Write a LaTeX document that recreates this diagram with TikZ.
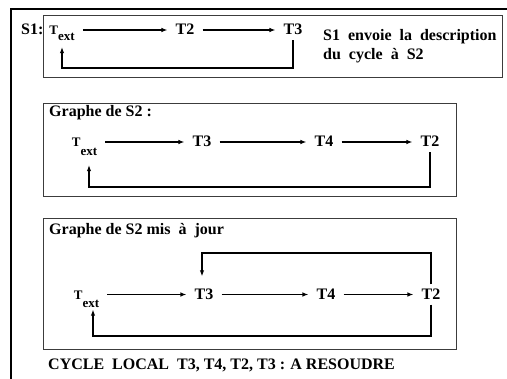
\documentclass[tikz,border=0pt]{standalone}
\usepackage{fontspec}
\setmainfont{Liberation Serif}
\usetikzlibrary{arrows.meta,positioning}
\definecolor{boxGray}{RGB}{60,60,60}
% T with the "ext" index set below it
\newcommand{\Tsub}[1]{{\fontsize{13}{15}\selectfont T\raisebox{-#1}{ext}}}

\begin{document}
\begin{tikzpicture}[x=1pt, y=-1pt, every node/.style={font=\fontsize{16}{18}\selectfont\bfseries},
    task/.style={inner xsep=8pt, inner ysep=5pt, text height=10pt, text depth=0pt},
    label/.style={inner sep=0pt, anchor=west},
    flow/.style={-{Latex[length=6pt,width=4.5pt]}, line width=1.1pt},
    frame/.style={draw=boxGray, line width=1pt}]
  \useasboundingbox (0,0) rectangle (507,379);
  % outer frame, runs off the page
  \draw[line width=1.6pt] (11,400) |- (530,9);

  % S1 sends its cycle
  \draw[frame] (43.5,15.5) rectangle (502,77.5);
  \node[label] (s1) at (21,29) {S1:};
  \node[task] (a1) at (62,30) {\Tsub{6pt}};
  \node[task] (b1) at (185,30) {T2};
  \node[task] (c1) at (293,30) {T3};
  \node[label, align=left, font=\fontsize{16}{19}\selectfont\bfseries] (note) at (323,46)
    {S1\ \ envoie\ \ la\ \ description\\du\ \ cycle\ \ à\ \ S2};
  \draw[flow] (a1) -- (b1);
  \draw[flow] (b1) -- (c1);
  \draw[flow] (c1.south) -- (c1.south |- 0,68) -| ([yshift=-7pt]a1.south);

  % graph of S2
  \draw[frame] (43.5,104) rectangle (456,197);
  \node[label] (g2) at (49,113) {Graphe de S2 :};
  \node[task] (a2) at (84.5,142) {\Tsub{9pt}};
  \node[task] (b2) at (202,142) {T3};
  \node[task] (c2) at (324,142) {T4};
  \node[task] (d2) at (430,142) {T2};
  \draw[flow] (a2) -- (b2);
  \draw[flow] (b2) -- (c2);
  \draw[flow] (c2) -- (d2);
  \draw[flow] (d2.south) -- (d2.south |- 0,187) -| ([xshift=4.5pt,yshift=-13pt]a2.south);

  % graph of S2 once updated
  \draw[frame] (43.5,219) rectangle (456,349.5);
  \node[label] (g3) at (49,231) {Graphe de S2 mis\ \ à\ \ jour};
  \node[task] (a3) at (86.5,294.5) {\Tsub{8pt}};
  \node[task] (b3) at (204,294.5) {T3};
  \node[task] (c3) at (326,294.5) {T4};
  \node[task] (d3) at (431,294.5) {T2};
  \draw[flow] (a3) -- (b3);
  \draw[flow] (b3) -- (c3);
  \draw[flow] (c3) -- (d3);
  \draw[flow] (d3.north) -- (d3.north |- 0,253) -| ([xshift=-2pt,yshift=8pt]b3.north);
  \draw[flow] (d3.south) -- (d3.south |- 0,336) -| ([xshift=6.5pt,yshift=-5pt]a3.south);
  \node[label] (cyc) at (48,365) {CYCLE\ \ LOCAL\ \ T3, T4, T2, T3 : A RESOUDRE};
\end{tikzpicture}
\end{document}
